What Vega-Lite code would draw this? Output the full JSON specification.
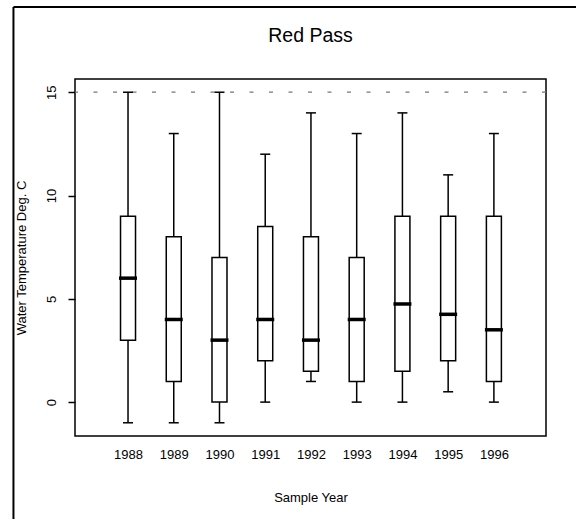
{
  "$schema": "https://vega.github.io/schema/vega-lite/v6.json",
  "width": 471,
  "height": 357,
  "autosize": "none",
  "padding": {"left": 75, "top": 79, "right": 30, "bottom": 83},
  "background": "white",
  "title": {"text": "Red Pass", "fontSize": 19.5, "font": "Liberation Sans", "fontWeight": "normal", "baseline": "alphabetic", "offset": -55, "anchor": "middle", "frame": "group", "color": "black"},
  "config": {
    "view": {"stroke": "black", "strokeWidth": 1.5},
    "font": "Liberation Sans",
    "axis": {"grid": false}
  },
  "data": {"values": [
    {"year": 1988, "low": -1, "q1": 3, "median": 6, "q3": 9, "high": 15},
    {"year": 1989, "low": -1, "q1": 1, "median": 4, "q3": 8, "high": 13},
    {"year": 1990, "low": -1, "q1": 0, "median": 3, "q3": 7, "high": 15},
    {"year": 1991, "low": 0, "q1": 2, "median": 4, "q3": 8.5, "high": 12},
    {"year": 1992, "low": 1, "q1": 1.5, "median": 3, "q3": 8, "high": 14},
    {"year": 1993, "low": 0, "q1": 1, "median": 4, "q3": 7, "high": 13},
    {"year": 1994, "low": 0, "q1": 1.5, "median": 4.75, "q3": 9, "high": 14},
    {"year": 1995, "low": 0.5, "q1": 2, "median": 4.25, "q3": 9, "high": 11},
    {"year": 1996, "low": 0, "q1": 1, "median": 3.5, "q3": 9, "high": 13}
  ]},
  "layer": [
    {
      "data": {"values": [{}]},
      "mark": {"type": "rule", "strokeDash": [4, 15.5], "color": "#777777", "strokeWidth": 1.2},
      "encoding": {
        "y": {"datum": 15, "type": "quantitative", "title": "Water Temperature Deg. C",
          "scale": {"domain": [-1.64, 15.64], "nice": false, "zero": false},
          "axis": {"values": [0, 5, 10, 15], "domain": false, "tickSize": 7, "tickColor": "black", "tickWidth": 1.5,
            "labelAngle": 270, "labelAlign": "center", "labelBaseline": "alphabetic", "labelPadding": 13,
            "labelFontSize": 13, "labelColor": "black", "labelFlush": false,
            "titleFontSize": 13, "titleFontWeight": "normal", "titleColor": "black",
            "titleX": -50, "titleY": 178.5, "titleBaseline": "alphabetic", "titleAngle": 270, "titleAlign": "center"}
        }
      }
    },
    {
      "data": {"values": [{}]},
      "mark": {"type": "rule", "color": "black", "strokeWidth": 2, "clip": false},
      "encoding": {
        "x": {"datum": 1985.495, "type": "quantitative"},
        "x2": {"datum": 1998},
        "y": {"datum": 19.125, "type": "quantitative"}
      }
    },
    {
      "data": {"values": [{}]},
      "mark": {"type": "rule", "color": "black", "strokeWidth": 2, "clip": false},
      "encoding": {
        "x": {"datum": 1985.495, "type": "quantitative"},
        "y": {"datum": 19.125, "type": "quantitative"},
        "y2": {"datum": -6}
      }
    },
    {
      "mark": {"type": "rule", "color": "black", "strokeWidth": 1.5},
      "encoding": {
        "x": {"field": "year", "type": "quantitative", "title": "Sample Year",
          "scale": {"domain": [1986.95, 1997.03], "nice": false, "zero": false},
          "axis": {"values": [1988, 1989, 1990, 1991, 1992, 1993, 1994, 1995, 1996], "format": "d", "ticks": false, "domain": false,
            "labelFontSize": 13, "labelColor": "black", "labelPadding": 12, "labelBaseline": "top", "labelFlush": false,
            "titleFontSize": 13, "titleFontWeight": "normal", "titleColor": "black", "titleY": 65, "titleBaseline": "alphabetic"}
        },
        "y": {"field": "low", "type": "quantitative", "title": "Water Temperature Deg. C"},
        "y2": {"field": "q1"}
      }
    },
    {
      "mark": {"type": "rule", "color": "black", "strokeWidth": 1.5},
      "encoding": {
        "x": {"field": "year", "type": "quantitative", "title": "Sample Year"},
        "y": {"field": "q3", "type": "quantitative", "title": "Water Temperature Deg. C"},
        "y2": {"field": "high"}
      }
    },
    {
      "mark": {"type": "tick", "orient": "horizontal", "color": "black", "size": 10, "thickness": 1.5, "opacity": 1},
      "encoding": {
        "x": {"field": "year", "type": "quantitative", "title": "Sample Year"},
        "y": {"field": "low", "type": "quantitative", "title": "Water Temperature Deg. C"}
      }
    },
    {
      "mark": {"type": "tick", "orient": "horizontal", "color": "black", "size": 10, "thickness": 1.5, "opacity": 1},
      "encoding": {
        "x": {"field": "year", "type": "quantitative", "title": "Sample Year"},
        "y": {"field": "high", "type": "quantitative", "title": "Water Temperature Deg. C"}
      }
    },
    {
      "mark": {"type": "bar", "fill": "white", "stroke": "black", "strokeWidth": 1.5, "size": 15},
      "encoding": {
        "x": {"field": "year", "type": "quantitative", "title": "Sample Year"},
        "y": {"field": "q1", "type": "quantitative", "title": "Water Temperature Deg. C"},
        "y2": {"field": "q3"}
      }
    },
    {
      "mark": {"type": "tick", "orient": "horizontal", "color": "black", "size": 18, "thickness": 3.5, "opacity": 1},
      "encoding": {
        "x": {"field": "year", "type": "quantitative", "title": "Sample Year"},
        "y": {"field": "median", "type": "quantitative", "title": "Water Temperature Deg. C"}
      }
    }
  ]
}
